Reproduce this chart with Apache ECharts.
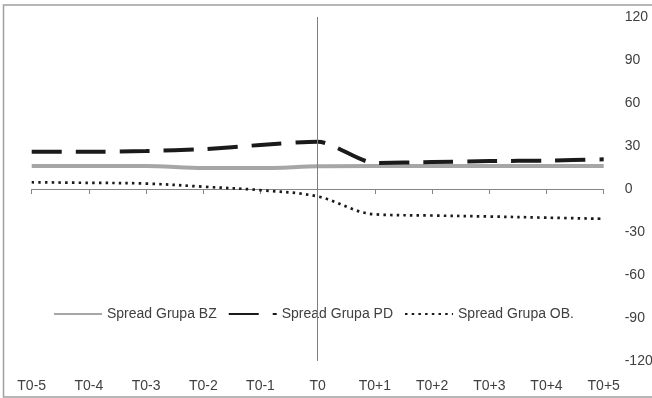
<!DOCTYPE html>
<html>
<head>
<meta charset="utf-8">
<script src="https://cdn.jsdelivr.net/npm/echarts@6/dist/echarts.min.js"></script>
<style>
html,body{margin:0;padding:0;background:#fff;}
#chart{width:652px;height:398px;}
</style>
</head>
<body>
<div id="chart"></div>
<script>
var categories = ['T0-5','T0-4','T0-3','T0-2','T0-1','T0','T0+1','T0+2','T0+3','T0+4','T0+5'];
var seriesNames = ['Spread Grupa BZ','Spread Grupa PD','Spread Grupa OB.'];
var spreadBZ = [16, 16, 16, 14.6, 14.6, 15.8, 16, 16, 16, 16, 16];
var spreadPD = [26, 26, 26.5, 27.8, 30.7, 33, 18.2, 18.8, 19.5, 19.8, 20.7];
var spreadOB = [4.7, 4.3, 3.8, 1.6, -0.8, -5.2, -17.7, -18.5, -19.2, -20, -20.8];
var yMin = -120, yMax = 120, yStep = 30;
var markerCategory = 'T0';

var FONT = "'Liberation Sans', Arial, sans-serif";
var TXT = '#404040';

var chart = echarts.init(document.getElementById('chart'), null, {renderer:'canvas'});
chart.setOption({
  animation: false,
  backgroundColor: '#ffffff',
  textStyle: {fontFamily: FONT},
  graphic: [{
    type: 'rect', silent: true,
    shape: {x: 3.5, y: 5, width: 700, height: 392},
    style: {fill: 'none', stroke: '#a0a0a0', lineWidth: 1.5}
  }],
  grid: {left: 31.7, right: 48.3, top: 17, bottom: 37, containLabel: false, outerBoundsMode: 'none'},
  legend: {
    left: 48, top: 302,
    itemWidth: 48, itemHeight: 14, itemGap: 11,
    itemStyle: {opacity: 0, borderWidth: 0},
    textStyle: {color: TXT, fontSize: 14, fontFamily: FONT},
    data: seriesNames
  },
  xAxis: [{
    type: 'category', data: categories, boundaryGap: false,
    axisLine: {onZero: true, lineStyle: {color: '#868686', width: 1}},
    axisTick: {show: true, length: 5, alignWithLabel: true, lineStyle: {color: '#868686'}},
    axisLabel: {show: false},
    splitLine: {show: false}
  }, {
    type: 'category', data: categories, boundaryGap: false, position: 'bottom',
    axisLine: {show: false, onZero: false},
    axisTick: {show: false},
    axisLabel: {show: true, margin: 18, color: TXT, fontSize: 14, fontFamily: FONT, interval: 0},
    splitLine: {show: false}
  }],
  yAxis: {
    type: 'value', position: 'right', min: yMin, max: yMax, interval: yStep,
    axisLine: {show: false}, axisTick: {show: false}, splitLine: {show: false},
    axisLabel: {margin: 21, color: TXT, fontSize: 14, fontFamily: FONT, align: 'left'}
  },
  series: [{
    name: seriesNames[0], type: 'line', data: spreadBZ, symbol: 'none', smooth: 0.3,
    lineStyle: {color: '#a6a6a6', width: 4},
    itemStyle: {color: '#a6a6a6'},
    markLine: {
      silent: true, symbol: 'none', label: {show: false},
      lineStyle: {color: '#7f7f7f', width: 1, type: 'solid'},
      data: [{xAxis: markerCategory}]
    },
    z: 2
  }, {
    name: seriesNames[1], type: 'line', data: spreadPD, symbol: 'none', smooth: 0.25,
    lineStyle: {color: '#1a1a1a', width: 4, type: [30, 14], cap: 'butt'},
    itemStyle: {color: '#1a1a1a'},
    z: 3
  }, {
    name: seriesNames[2], type: 'line', data: spreadOB, symbol: 'none', smooth: 0.35,
    lineStyle: {color: '#1a1a1a', width: 2.7, type: [2.5, 4.2], cap: 'butt'},
    itemStyle: {color: '#1a1a1a'},
    z: 3
  }]
});
</script>
</body>
</html>
